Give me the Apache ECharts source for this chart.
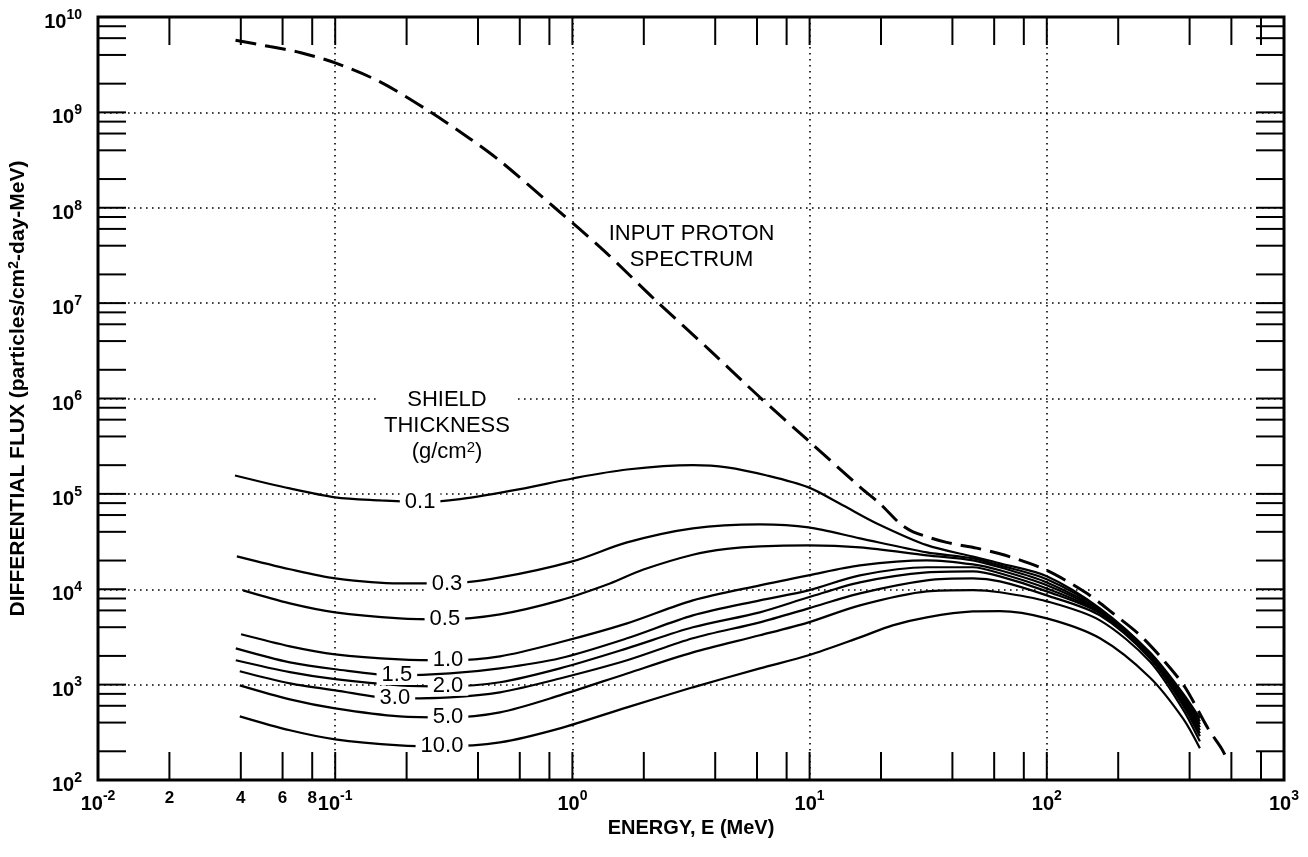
<!DOCTYPE html>
<html>
<head>
<meta charset="utf-8">
<title>Differential proton flux behind shielding</title>
<script src="https://cdn.jsdelivr.net/npm/echarts@6/dist/echarts.min.js"></script>
<style>
  html, body { margin: 0; padding: 0; background: #fff; }
  #chart { width: 1308px; height: 857px; }
</style>
</head>
<body>
<div id="chart"></div>
<script>
// ---- axis ranges ----
const energyRange = [1e-2, 1e3];     // MeV
const fluxRange = [1e2, 1e10];       // particles/cm2-day-MeV

// ---- tick structure (ticks at 2, 4, 6, 8 and 10 in every decade) ----
const tickMultipliers = [1, 2, 4, 6, 8];
const xDecadeExponents = [-2, -1, 0, 1, 2];
const yDecadeExponents = [2, 3, 4, 5, 6, 7, 8, 9];
const xMinorLabelValues = [0.02, 0.04, 0.06, 0.08];
const xMinorLabelText = ['2', '4', '6', '8'];

// ---- input proton spectrum [E (MeV), flux] ----
const inputSpectrum = [
  [0.038, 5.7e9], [0.053, 4.9e9], [0.071, 4.25e9], [0.1, 3.3e9], [0.154, 2.1e9],
  [0.246, 1.05e9], [0.37, 5.3e8], [0.495, 3.1e8], [0.843, 1.0e8], [1.35, 3.6e7],
  [2.27, 1.04e7], [3.8, 3.2e6], [6.17, 1.03e6], [9.9, 3.6e5], [16.5, 1.15e5],
  [19.8, 7.9e4], [24, 4.9e4], [27.3, 4.0e4], [37.8, 3.1e4], [50.6, 2.7e4],
  [66.8, 2.27e4], [100, 1.58e4], [148, 9.0e3], [190, 5.6e3], [247, 3.3e3],
  [315, 1.73e3], [382, 944], [478, 348], [546, 213], [573, 169]
];

// ---- spectra behind shields of given thickness (g/cm2) ----
const shield01 = [
  [0.0378, 1.56e5], [0.0644, 1.14e5], [0.1, 9.2e4], [0.154, 8.55e4], [0.228, 8.2e4],
  [0.336, 8.8e4], [0.601, 1.12e5], [1.0, 1.45e5], [1.70, 1.8e5], [3.22, 2.0e5],
  [4.48, 1.9e5], [6.61, 1.56e5], [9.9, 1.17e5], [13.8, 7.6e4], [19.2, 4.9e4],
  [31.2, 2.9e4], [48.8, 2.2e4], [63.4, 1.87e4], [100, 1.37e4], [167.5, 6.3e3],
  [272, 2.18e3], [375, 810], [442, 443]
];
const shield03 = [
  [0.0385, 2.21e4], [0.0644, 1.62e4], [0.1, 1.30e4], [0.187, 1.15e4], [0.296, 1.15e4],
  [0.495, 1.33e4], [1.0, 1.96e4], [1.70, 3.10e4], [3.22, 4.35e4], [6.17, 4.79e4],
  [9.9, 4.46e4], [16.3, 3.42e4], [31.2, 2.44e4], [48.8, 2.11e4], [63.4, 1.78e4],
  [100, 1.27e4], [167.5, 6.16e3], [272, 2.13e3], [375, 772], [442, 412]
];
const shield05 = [
  [0.0409, 9.74e3], [0.0644, 7.12e3], [0.1, 5.73e3], [0.187, 4.95e3], [0.29, 4.84e3],
  [0.495, 5.46e3], [0.886, 7.65e3], [1.44, 1.15e4], [1.98, 1.6e4], [3.22, 2.3e4],
  [4.48, 2.65e4], [6.17, 2.82e4], [9.9, 2.89e4], [16.3, 2.75e4], [31.2, 2.27e4],
  [48.8, 2.01e4], [63.4, 1.70e4], [100, 1.18e4], [167.5, 6.01e3], [272, 2.08e3],
  [375, 736], [442, 384]
];
const shield10 = [
  [0.0401, 3.37e3], [0.0644, 2.52e3], [0.1, 2.08e3], [0.187, 1.84e3], [0.299, 1.80e3],
  [0.495, 1.98e3], [0.886, 2.78e3], [1.70, 4.39e3], [3.22, 7.65e3], [6.17, 1.10e4],
  [9.9, 1.40e4], [16.3, 1.78e4], [31.2, 2.01e4], [48.8, 1.82e4], [63.4, 1.58e4],
  [100, 1.10e4], [167.5, 5.87e3], [272, 2.03e3], [375, 701], [442, 357]
];
const shield15 = [
  [0.0381, 2.40e3], [0.0644, 1.71e3], [0.1, 1.45e3], [0.182, 1.25e3], [0.3045, 1.31e3],
  [0.495, 1.48e3], [0.886, 1.89e3], [1.70, 3.06e3], [3.22, 5.32e3], [6.17, 7.65e3],
  [9.9, 9.74e3], [16.3, 1.40e4], [31.2, 1.70e4], [48.8, 1.70e4], [63.4, 1.47e4],
  [100, 1.02e4], [167.5, 5.73e3], [272, 1.98e3], [375, 668], [442, 332]
];
const shield20 = [
  [0.0381, 1.80e3], [0.0644, 1.35e3], [0.1, 1.14e3], [0.187, 983], [0.299, 960],
  [0.495, 1.06e3], [0.886, 1.48e3], [1.70, 2.40e3], [3.22, 3.99e3], [6.17, 5.73e3],
  [9.9, 8.23e3], [16.3, 1.18e4], [31.2, 1.50e4], [48.8, 1.54e4], [63.4, 1.365e4],
  [100, 9.5e3], [167.5, 5.59e3], [272, 1.93e3], [375, 637], [442, 309]
];
const shield30 = [
  [0.0396, 1.38e3], [0.0644, 1.03e3], [0.1, 871], [0.1785, 718], [0.3045, 736],
  [0.495, 830], [0.886, 1.16e3], [1.70, 1.80e3], [3.22, 3.06e3], [6.17, 4.50e3],
  [9.9, 6.31e3], [16.3, 9.06e3], [31.2, 1.24e4], [48.8, 1.30e4], [63.4, 1.21e4],
  [100, 8.63e3], [167.5, 5.32e3], [272, 1.89e3], [375, 607], [442, 287]
];
const shield50 = [
  [0.0396, 983], [0.0644, 701], [0.1, 564], [0.187, 465], [0.299, 454],
  [0.495, 512], [0.886, 772], [1.70, 1.31e3], [3.22, 2.18e3], [6.17, 3.29e3],
  [9.9, 4.50e3], [16.3, 6.78e3], [31.2, 9.5e3], [48.8, 9.8e3], [63.4, 9.3e3],
  [100, 7.47e3], [167.5, 4.72e3], [272, 1.75e3], [375, 551], [442, 254]
];
const shield100 = [
  [0.0396, 465], [0.0644, 332], [0.1, 267], [0.187, 231], [0.282, 226],
  [0.495, 248], [0.886, 348], [1.70, 578], [3.22, 937], [6.17, 1.48e3],
  [9.9, 2.03e3], [16.3, 3.13e3], [22.4, 4.18e3], [31.2, 5.08e3], [48.8, 5.85e3],
  [63.4, 5.9e3], [100, 4.95e3], [167.5, 3.06e3], [272, 1.19e3], [375, 443], [442, 215]
];

// thickness label and the index of the point that carries it
const shieldCurves = [
  { label: '0.1',  points: shield01,  labelAt: 4 },
  { label: '0.3',  points: shield03,  labelAt: 4 },
  { label: '0.5',  points: shield05,  labelAt: 4 },
  { label: '1.0',  points: shield10,  labelAt: 4 },
  { label: '1.5',  points: shield15,  labelAt: 3 },
  { label: '2.0',  points: shield20,  labelAt: 4 },
  { label: '3.0',  points: shield30,  labelAt: 3 },
  { label: '5.0',  points: shield50,  labelAt: 4 },
  { label: '10.0', points: shield100, labelAt: 4 }
];

// ---- free text annotations ----
const annotationText = {
  shield: '{t|SHIELD}\n{t|THICKNESS}\n{t|(g/cm}{u|2}{t|)}',
  input: '{t|INPUT PROTON}\n{t|SPECTRUM}'
};
const annotationAnchors = { shield: [0.296, 5.2e5], input: [3.18, 3.84e7] };

// ---------------------------------------------------------------
const FONT = '"Liberation Sans", Arial, Helvetica, sans-serif';
const INK = '#000';
const TICK_LEN = 28;

const xTickValues = [];
xDecadeExponents.forEach(e => tickMultipliers.forEach(m => xTickValues.push(+(m * Math.pow(10, e)).toPrecision(3))));
xTickValues.push(energyRange[1]);
const yTickValues = [];
yDecadeExponents.forEach(e => tickMultipliers.forEach(m => yTickValues.push(m * Math.pow(10, e))));
yTickValues.push(fluxRange[1]);

const powerRich = {
  b: { fontFamily: FONT, fontSize: 20, fontWeight: 'bold', color: INK, padding: [11, 0, 0, 0] },
  s: { fontFamily: FONT, fontSize: 14, fontWeight: 'bold', color: INK, padding: [0, 0, 4, 0] }
};
function powerLabel(value) {
  const e = Math.round(Math.log10(value));
  return '{b|10}{s|' + e + '}';
}

const gridDots = { color: INK, width: 1.6, type: [1.6, 4.4] };

function renderXTick(params, api) {
  const v = api.value(0);
  const b = api.coord([v, fluxRange[0]]);
  const t = api.coord([v, fluxRange[1]]);
  return {
    type: 'group',
    children: [
      { type: 'line', shape: { x1: b[0], y1: b[1], x2: b[0], y2: b[1] - TICK_LEN }, style: { stroke: INK, lineWidth: 2 } },
      { type: 'line', shape: { x1: t[0], y1: t[1], x2: t[0], y2: t[1] + TICK_LEN }, style: { stroke: INK, lineWidth: 2 } }
    ]
  };
}
function renderYTick(params, api) {
  const v = api.value(1);
  const l = api.coord([energyRange[0], v]);
  const r = api.coord([energyRange[1], v]);
  return {
    type: 'group',
    children: [
      { type: 'line', shape: { x1: l[0], y1: l[1], x2: l[0] + TICK_LEN, y2: l[1] }, style: { stroke: INK, lineWidth: 2 } },
      { type: 'line', shape: { x1: r[0], y1: r[1], x2: r[0] - TICK_LEN, y2: r[1] }, style: { stroke: INK, lineWidth: 2 } }
    ]
  };
}
function renderMinorLabel(params, api) {
  const p = api.coord([api.value(0), fluxRange[0]]);
  return {
    type: 'text',
    x: p[0],
    y: p[1] + 18,
    style: {
      text: xMinorLabelText[params.dataIndex],
      font: 'bold 17px ' + FONT,
      fill: INK,
      align: 'center', textAlign: 'center',
      verticalAlign: 'middle', textVerticalAlign: 'middle'
    }
  };
}

const series = [];

shieldCurves.forEach(c => {
  series.push({
    type: 'line',
    name: c.label,
    data: c.points,
    showSymbol: false,
    smooth: 0.3,
    lineStyle: { color: INK, width: 2.2 },
    z: 3,
    silent: true
  });
});

series.push({
  type: 'line',
  name: 'INPUT PROTON SPECTRUM',
  data: inputSpectrum,
  showSymbol: false,
  smooth: 0.3,
  lineStyle: { color: INK, width: 3, type: [21, 9] },
  z: 3,
  silent: true
});

// inline thickness labels on each curve
series.push({
  type: 'scatter',
  data: shieldCurves.map(c => ({ name: c.label, value: c.points[c.labelAt] })),
  symbolSize: 1,
  itemStyle: { color: 'rgba(0,0,0,0)', opacity: 1 },
  label: {
    show: true, position: 'inside', formatter: '{b}', opacity: 1,
    color: INK, textBorderWidth: 0, fontFamily: FONT, fontSize: 22, lineHeight: 19,
    backgroundColor: '#fff', padding: [0, 5]
  },
  z: 10,
  silent: true
});

// annotation blocks
series.push({
  type: 'scatter',
  data: [
    { name: 'shield', value: annotationAnchors.shield,
      label: { formatter: annotationText.shield, backgroundColor: '#fff', padding: [2, 8] } },
    { name: 'input', value: annotationAnchors.input,
      label: { formatter: annotationText.input } }
  ],
  symbolSize: 1,
  itemStyle: { color: 'rgba(0,0,0,0)', opacity: 1 },
  label: {
    show: true, position: 'inside', align: 'center', opacity: 1,
    color: INK, textBorderWidth: 0,
    rich: {
      t: { fontFamily: FONT, fontSize: 22, color: INK, textBorderWidth: 0, lineHeight: 26, align: 'center' },
      u: { fontFamily: FONT, fontSize: 15, color: INK, textBorderWidth: 0, lineHeight: 26, padding: [0, 0, 8, 0], align: 'center' }
    }
  },
  z: 10,
  silent: true
});

// frame ticks and first-decade labels
series.push({
  type: 'custom', renderItem: renderXTick, silent: true, z: 6, clip: false,
  data: xTickValues.map(v => [v, fluxRange[0]])
});
series.push({
  type: 'custom', renderItem: renderYTick, silent: true, z: 6, clip: false,
  data: yTickValues.map(v => [energyRange[0], v])
});
series.push({
  type: 'custom', renderItem: renderMinorLabel, silent: true, z: 6, clip: false,
  data: xMinorLabelValues.map(v => [v, fluxRange[0]])
});

const option = {
  backgroundColor: '#fff',
  animation: false,
  grid: {
    left: 98, top: 17, width: 1186, height: 763,
    containLabel: false, outerBoundsMode: 'none',
    show: true, borderColor: INK, borderWidth: 3, backgroundColor: 'transparent'
  },
  xAxis: {
    type: 'log', logBase: 10, min: energyRange[0], max: energyRange[1],
    axisLine: { show: false }, axisTick: { show: false },
    splitLine: { show: true, lineStyle: gridDots },
    axisLabel: { formatter: powerLabel, rich: powerRich, margin: 3, showMinLabel: true, showMaxLabel: true },
    name: 'ENERGY, E (MeV)', nameLocation: 'middle', nameGap: 36,
    nameTextStyle: { fontFamily: FONT, fontSize: 20, fontWeight: 'bold', color: INK }
  },
  yAxis: {
    type: 'log', logBase: 10, min: fluxRange[0], max: fluxRange[1],
    axisLine: { show: false }, axisTick: { show: false },
    splitLine: { show: true, lineStyle: gridDots },
    axisLabel: { formatter: powerLabel, rich: powerRich, margin: 16, showMinLabel: true, showMaxLabel: true },
    name: '{n|DIFFERENTIAL FLUX (particles/cm}{u|2}{n|-day-MeV)}',
    nameLocation: 'middle', nameRotate: 90, nameGap: 68,
    nameTextStyle: {
      padding: [0, 0, 0, 20],
      rich: {
        n: { fontFamily: FONT, fontSize: 21, fontWeight: 'bold', color: INK },
        u: { fontFamily: FONT, fontSize: 14, fontWeight: 'bold', color: INK, padding: [0, 0, 9, 0] }
      }
    }
  },
  series: series
};

const chart = echarts.init(document.getElementById('chart'));
chart.setOption(option);
</script>
</body>
</html>
